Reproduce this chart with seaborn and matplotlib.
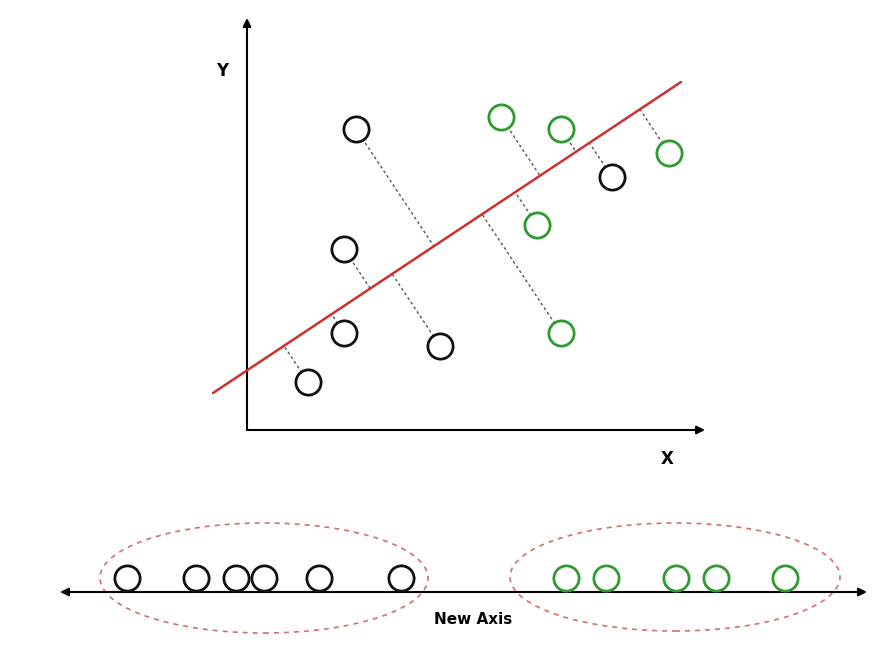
import numpy as np
import pandas as pd
import matplotlib
matplotlib.use('Agg')
import matplotlib.pyplot as plt
from matplotlib.patches import Ellipse
import seaborn as sns; sns.set_style('white')

# original 2-D points (x, y measured in canvas units, y up)
black_x = [356, 344, 344, 308, 440, 612]
black_y = [530, 410, 326, 277, 313, 482]
green_x = [501, 561, 669, 537, 561]
green_y = [542, 530, 506, 434, 326]

# fitted direction (red line end points)
line_x = [213, 681]
line_y = [266, 577]

# positions of the points on the new axis
new_black = [127, 196, 236, 264, 319, 401]
new_green = [566, 606, 676, 716, 785]
new_axis_y = 67
new_pts_y = 81

# cluster ellipses: centre x, centre y, width, height
ell_cx = [264, 675]
ell_cy = [81, 82]
ell_w = [328, 330]
ell_h = [110, 108]

BLACK = '#111111'
GREEN = '#2f9a2f'
RED = '#c8322f'

fig = plt.figure(figsize=(8.92, 6.59), dpi=100)
ax = fig.add_axes([0, 0, 1, 1])
ax.set_xlim(0, 892)
ax.set_ylim(0, 659)
ax.axis('off')

# X / Y axes
arrow = dict(arrowstyle='-|>', color='black', lw=1.5, mutation_scale=12, shrinkA=0, shrinkB=0)
ax.annotate('', xy=(247, 641), xytext=(247, 229), arrowprops=arrow)
ax.annotate('', xy=(705, 229), xytext=(247, 229), arrowprops=arrow)
ax.text(222, 588, 'Y', fontsize=12, fontweight='bold', color='black', ha='center', va='center')
ax.text(667, 200, 'X', fontsize=12, fontweight='bold', color='black', ha='center', va='center')

# red line
sns.lineplot(x=line_x, y=line_y, color=RED, lw=1.8, ax=ax, zorder=3)

# dotted projections onto the line
p0 = np.array([line_x[0], line_y[0]], float)
d = np.array([line_x[1] - line_x[0], line_y[1] - line_y[0]], float)
d /= np.linalg.norm(d)
for px, py in zip(black_x + green_x, black_y + green_y):
    v = np.array([px, py]) - p0
    foot = p0 + d * v.dot(d)
    ax.plot([px, foot[0]], [py, foot[1]], color='#555555', lw=1,
            linestyle=(0, (2, 2)), zorder=2)

pts = dict(s=330, facecolor='white', linewidth=2.0, zorder=5, ax=ax, legend=False)
sns.scatterplot(x=black_x, y=black_y, edgecolor=BLACK, **pts)
sns.scatterplot(x=green_x, y=green_y, edgecolor=GREEN, **pts)

# new axis
ax.annotate('', xy=(60, new_axis_y), xytext=(867, new_axis_y),
            arrowprops=dict(arrowstyle='<|-|>', color='black', lw=1.5,
                            mutation_scale=12, shrinkA=0, shrinkB=0))
ax.text(473, 39, 'New Axis', fontsize=11, fontweight='bold', color='black',
        ha='center', va='center')

sns.scatterplot(x=new_black, y=[new_pts_y] * len(new_black), edgecolor=BLACK, **pts)
sns.scatterplot(x=new_green, y=[new_pts_y] * len(new_green), edgecolor=GREEN, **pts)

for cx, cy, w, h in zip(ell_cx, ell_cy, ell_w, ell_h):
    ax.add_patch(Ellipse((cx, cy), w, h, fill=False, edgecolor='#d27070',
                         lw=1.2, linestyle=(0, (3, 3)), zorder=1))

fig.savefig('out.png', dpi=100)
